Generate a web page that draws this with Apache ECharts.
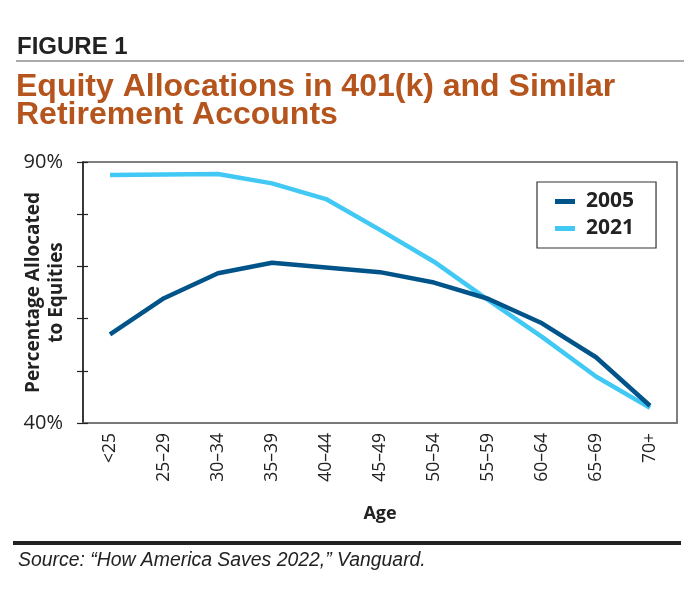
<!DOCTYPE html>
<html>
<head>
<meta charset="utf-8">
<script src="https://cdn.jsdelivr.net/npm/echarts@6/dist/echarts.min.js"></script>
<style>
html,body{margin:0;padding:0;background:#fff;}
#c{width:700px;height:590px;}
</style>
</head>
<body>
<div id="c"></div>
<script>
const categories = ['<25','25–29','30–34','35–39','40–44','45–49','50–54','55–59','60–64','65–69','70+'];
const series2005 = [57.0, 63.9, 68.7, 70.7, 69.8, 68.9, 66.9, 63.8, 59.1, 52.6, 43.3];
const series2021 = [87.5, 87.6, 87.7, 85.9, 82.9, 77.0, 70.9, 63.6, 56.5, 48.9, 42.9];
const yTickLabels = {90: '90%', 40: '40%'};

const condensed = '"Liberation Sans Narrow", "Liberation Sans", Arial, sans-serif';
const humanist = '"Open Sans", "Noto Sans", sans-serif';

const chart = echarts.init(document.getElementById('c'), null, {renderer: 'canvas'});
chart.setOption({
  backgroundColor: '#fff',
  animation: false,
  grid: {left: 83, top: 162, right: 23, bottom: 167, containLabel: false, outerBoundsMode: 'none',
    show: true, borderColor: '#555', borderWidth: 1.5, backgroundColor: 'transparent'},
  legend: {
    orient: 'vertical', left: 537, top: 182,
    data: ['2005', '2021'],
    icon: 'rect', itemWidth: 20, itemHeight: 5, itemGap: 6,
    padding: [9, 22, 9, 18],
    borderColor: '#333', borderWidth: 1.2,
    textStyle: {fontFamily: humanist, fontWeight: 'bold', fontSize: 21, color: '#222', padding: [0, 0, 0, 6]}
  },
  xAxis: {
    type: 'category', data: categories, boundaryGap: true,
    axisLine: {show: true, lineStyle: {color: '#777', width: 1.5}},
    axisTick: {show: false},
    axisLabel: {rotate: 90, margin: 10, fontFamily: humanist, fontSize: 17.5, color: '#222'},
    name: 'Age', nameLocation: 'middle', nameGap: 82, nameMoveOverlap: false,
    nameTextStyle: {fontFamily: humanist, fontWeight: 'bold', fontSize: 18, color: '#222'}
  },
  yAxis: [{
    type: 'value', min: 40, max: 90, interval: 10,
    axisLine: {show: true, lineStyle: {color: '#222', width: 1.5}},
    axisTick: {show: true, length: 6, lineStyle: {color: '#222', width: 1.2}},
    splitLine: {show: false},
    axisLabel: {margin: 20, fontFamily: humanist, fontSize: 20, color: '#222',
      formatter: v => yTickLabels[v] || ''},
    name: 'Percentage Allocated\nto Equities', nameLocation: 'middle', nameGap: 15, nameMoveOverlap: false,
    nameTextStyle: {fontFamily: humanist, fontWeight: 'bold', fontSize: 19, color: '#222', lineHeight: 23}
  }, {
    type: 'value', min: 40, max: 90, interval: 10, position: 'left', offset: 0,
    axisLine: {show: false},
    axisTick: {show: true, inside: true, length: 5, lineStyle: {color: '#222', width: 1.2}},
    splitLine: {show: false},
    axisLabel: {show: false}
  }],
  series: [{
    name: '2005', type: 'line', data: series2005, symbol: 'none',
    lineStyle: {color: '#00548a', width: 4.5}, itemStyle: {color: '#00548a'}, z: 3
  }, {
    name: '2021', type: 'line', data: series2021, symbol: 'none',
    lineStyle: {color: '#42c8f4', width: 4.5}, itemStyle: {color: '#42c8f4'}, z: 2
  }],
  graphic: [
    {type: 'text', left: 17, top: 35, style: {text: 'FIGURE 1', font: 'bold 24px ' + condensed, fill: '#222'}},
    {type: 'rect', shape: {x: 16, y: 60, width: 668, height: 2}, style: {fill: '#aaa'}},
    {type: 'text', left: 16, top: 71, style: {text: 'Equity Allocations in 401(k) and Similar\nRetirement Accounts', font: 'bold 32px ' + condensed, fill: '#b5541c', lineHeight: 28}},
    {type: 'rect', shape: {x: 13, y: 541, width: 668, height: 4}, style: {fill: '#222'}},
    {type: 'text', left: 18, top: 551, style: {text: 'Source: \u201CHow America Saves 2022,\u201D Vanguard.', font: 'italic 19.4px ' + condensed, fill: '#222'}}
  ]
});
</script>
</body>
</html>
